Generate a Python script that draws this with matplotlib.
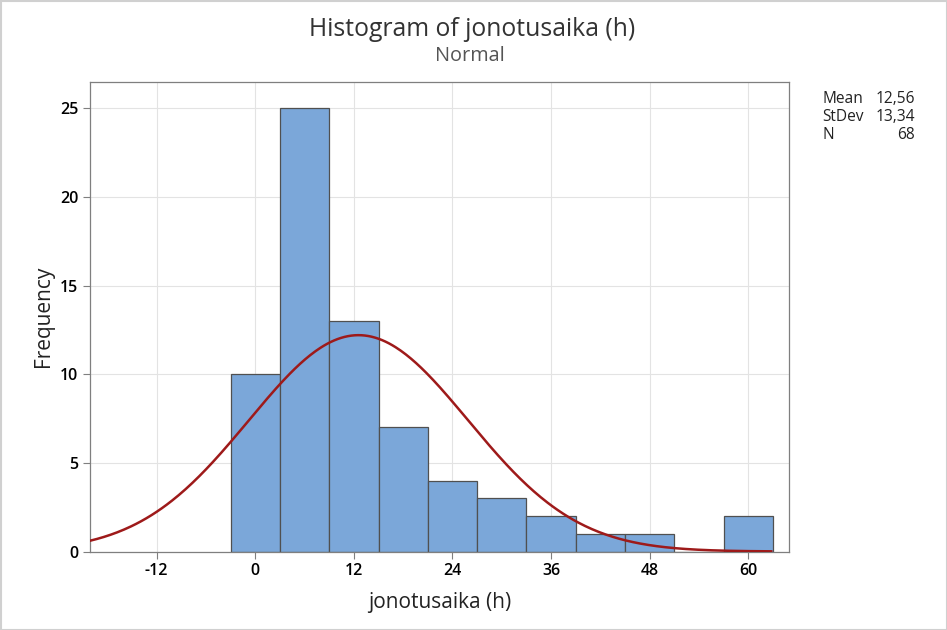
import numpy as np
import matplotlib
matplotlib.use("Agg")
import matplotlib.pyplot as plt
from matplotlib.patches import Rectangle

plt.rcParams['font.family'] = ['Open Sans', 'DejaVu Sans']

# Data
bin_centers = [0, 6, 12, 18, 24, 30, 36, 42, 48, 54, 60]
counts = [10, 25, 13, 7, 4, 3, 2, 1, 1, 0, 2]
bin_width = 6
mean_val = 12.56
std_val = 13.34
n_obs = 68
xticks = [-12, 0, 12, 24, 36, 48, 60]
yticks = [0, 5, 10, 15, 20, 25]

fig = plt.figure(figsize=(9.47, 6.3), dpi=100)
ax = fig.add_axes([90/947, 1-551.5/630, (789.3-90)/947, (551.5-82)/630])

ax.bar(bin_centers, counts, width=bin_width, color='#7BA7D9', edgecolor='#505050',
       linewidth=0.9, zorder=2)

xmin, xmax = -20.12, 65.0
xs = np.linspace(xmin, 62.8, 400)
ys = n_obs * bin_width / (std_val * np.sqrt(2*np.pi)) * np.exp(-0.5*((xs-mean_val)/std_val)**2)
ax.plot(xs, ys, color='#9E1A1A', linewidth=1.8, zorder=3)

ax.set_xlim(xmin, xmax)
ax.set_ylim(0, 26.48)
ax.set_xticks(xticks)
ax.set_xticklabels([str(t) for t in xticks])
ax.set_yticks(yticks)
ax.grid(True, color='#E3E3E3', linewidth=0.8, zorder=0)
ax.set_axisbelow(True)
for s in ['top', 'right', 'left', 'bottom']:
    ax.spines[s].set_color('#7F7F7F')
    ax.spines[s].set_linewidth(0.9)
ax.tick_params(axis='both', colors='#7F7F7F', labelcolor='#000000', labelsize=11.5,
               length=5, direction='out')
for lbl in ax.get_xticklabels() + ax.get_yticklabels():
    lbl.set_fontweight('semibold')
ax.set_xlabel('jonotusaika (h)', fontsize=15, color='#222222', labelpad=9)
ax.set_ylabel('Frequency', fontsize=15, color='#222222')
ax.yaxis.set_label_coords((54 - 90) / (789.3 - 90), 0.5)

fig.text(472/947, 1-30/630, 'Histogram of jonotusaika (h)', ha='center', va='center',
         fontsize=17.8, color='#333333', fontweight='medium')
fig.text(470/947, 1-56/630, 'Normal', ha='center', va='center', fontsize=14.3, color='#555555')

labels = ['Mean', 'StDev', 'N']
vals = ['12,56', '13,34', '68']
for i, (l, v) in enumerate(zip(labels, vals)):
    y = 1 - (99 + i*18) / 630
    fig.text(822/947, y, l, ha='left', va='center', fontsize=11.2, color='#222222',
             fontweight='medium')
    fig.text(915/947, y, v, ha='right', va='center', fontsize=11.2, color='#222222',
             fontweight='medium')

fig.patches.append(Rectangle((0.5/947, 0.5/630), 1-1/947, 1-1/630, transform=fig.transFigure,
                             fill=False, edgecolor='#D0D0D0', linewidth=1.5))

fig.savefig('out.png', dpi=100)
